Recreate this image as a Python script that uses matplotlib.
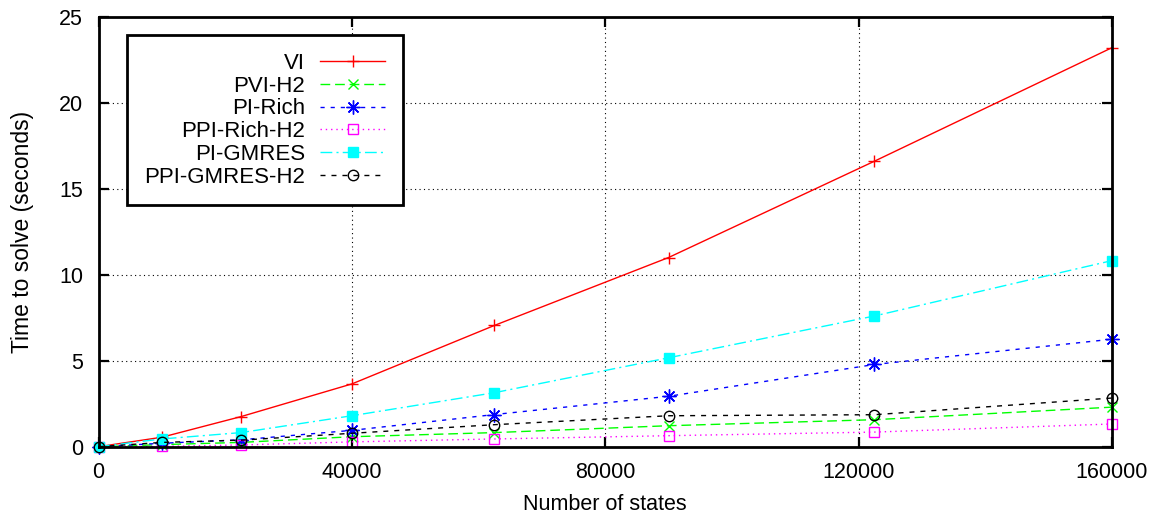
import matplotlib
matplotlib.use("Agg")
import matplotlib.pyplot as plt

plt.rcParams['font.family'] = ['Liberation Sans', 'DejaVu Sans']

states = [0, 10000, 22500, 40000, 62500, 90000, 122500, 160000]

vi          = [0.0, 0.55, 1.75, 3.65, 7.05, 11.0, 16.6, 23.2]
pvi_h2      = [0.0, 0.12, 0.25, 0.58, 0.82, 1.22, 1.57, 2.30]
pi_rich     = [0.0, 0.20, 0.40, 0.95, 1.87, 2.93, 4.78, 6.25]
ppi_rich_h2 = [0.0, 0.02, 0.10, 0.28, 0.45, 0.64, 0.85, 1.32]
pi_gmres    = [0.0, 0.45, 0.82, 1.80, 3.14, 5.17, 7.60, 10.82]
ppi_gmres_h2 = [0.0, 0.25, 0.38, 0.78, 1.28, 1.80, 1.86, 2.83]

series_names = ["VI", "PVI-H2", "PI-Rich", "PPI-Rich-H2", "PI-GMRES", "PPI-GMRES-H2"]

xticks = [0, 40000, 80000, 120000, 160000]
yticks = [0, 5, 10, 15, 20, 25]

W, H = 1151, 516
fig = plt.figure(figsize=(W / 100, H / 100), dpi=100)
l, r, t, b = 98.5, 1112, 16.7, 446.7
ax = fig.add_axes([l / W, 1 - b / H, (r - l) / W, (b - t) / H])

styles = [
    dict(color='#ff0000', ls='-', marker='+', ms=9, mew=1.0),
    dict(color='#00ff00', ls=(0, (7, 3.5)), marker='x', ms=7, mew=1.0),
    dict(color='#0000ff', ls=(0, (3, 4.3)), marker=(8, 2, 0), ms=10, mew=1.0),
    dict(color='#ff00ff', ls=(0, (1, 2.8)), marker='s', ms=7, mew=1.0, mfc='none'),
    dict(color='#00ffff', ls=(0, (8.5, 3, 1.5, 3)), marker='s', ms=7, mew=1.0),
    dict(color='#000000', ls=(0, (3.6, 4.3)), marker='o', ms=7.5, mew=1.0, mfc='none'),
]
data = [vi, pvi_h2, pi_rich, ppi_rich_h2, pi_gmres, ppi_gmres_h2]

for name, ys, st in zip(series_names, data, styles):
    st = dict(st)
    color = st.pop('color')
    ls = st.pop('ls')
    ax.plot(states, ys, color=color, linestyle=ls, lw=1.0, label=name,
            clip_on=False, zorder=3, **st)

ax.set_xlim(0, 160000)
ax.set_ylim(0, 25)
ax.set_xticks(xticks)
ax.set_xticklabels([str(v) for v in xticks])
ax.set_yticks(yticks)
ax.set_yticklabels([str(v) for v in yticks])

ax.grid(True, color='black', linestyle=(0, (1, 3)), linewidth=0.8)
ax.set_axisbelow(True)

for sp in ax.spines.values():
    sp.set_linewidth(2.0)
    sp.set_zorder(4)

ax.tick_params(axis='both', direction='in', length=7, width=1.6,
               top=True, right=True, labelsize=15.5, pad=11)

ax.set_xlabel("Number of states", fontsize=15.5, labelpad=8)
ax.set_ylabel("Time to solve (seconds)", fontsize=16.5, labelpad=18)

x0 = (126.7 - l) / (r - l)
y0 = (b - 35) / (b - t)
leg = ax.legend(loc='upper left', bbox_to_anchor=(x0, y0), borderaxespad=0,
                markerfirst=False, handlelength=2.9, handletextpad=0.68,
                borderpad=0.8, labelspacing=0.08, fontsize=16,
                fancybox=False, framealpha=1, edgecolor='black')
leg.get_frame().set_linewidth(2.0)
leg.set_zorder(5)

fig.savefig("out.png", dpi=100)
